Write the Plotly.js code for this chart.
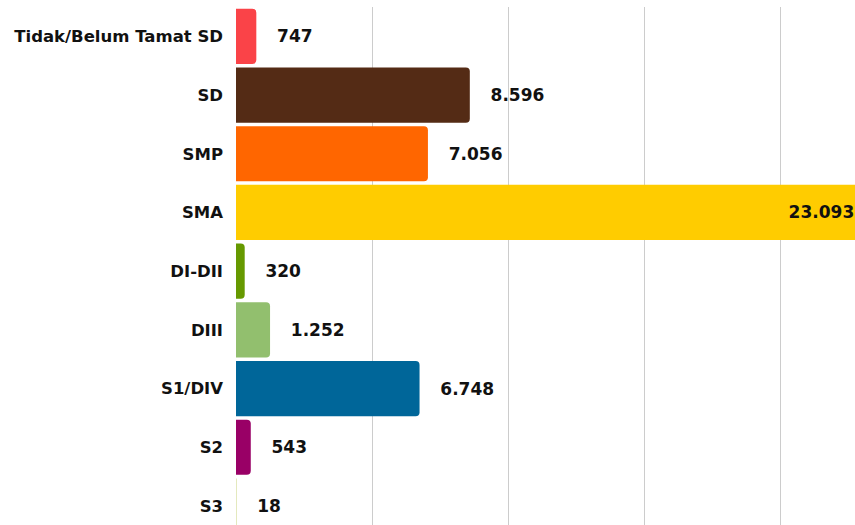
<!DOCTYPE html>
<html>
<head>
<meta charset="utf-8">
<script src="https://cdn.plot.ly/plotly-3.0.1.min.js"></script>
<style>html,body{margin:0;padding:0;background:#fff;}#chart{width:855px;height:525px;}</style>
</head>
<body>
<div id="chart"></div>
<script>
const categories = ["Tidak/Belum Tamat SD", "SD", "SMP", "SMA", "DI-DII", "DIII", "S1/DIV", "S2", "S3"];
const values = [747, 8596, 7056, 23093, 320, 1252, 6748, 543, 18];
const valueLabels = ["747", "8.596", "7.056", "23.093", "320", "1.252", "6.748", "543", "18"];
const barColors = ["#FA4348", "#542B15", "#FF6600", "#FFCC00", "#669900", "#92BF6E", "#006699", "#990066", "#C8D27A"];

const textPositions = values.map(v => v > 20000 ? "inside" : "outside");
const texts = valueLabels.map((t, i) => textPositions[i] === "outside" ? "\u00a0\u00a0\u00a0" + t : t + "\u00a0");

const trace = {
  type: "bar",
  orientation: "h",
  y: categories,
  x: values,
  marker: { color: barColors, cornerradius: 4, line: { width: 0 } },
  text: texts,
  textposition: textPositions,
  insidetextanchor: "end",
  textangle: 0,
  constraintext: "none",
  cliponaxis: true,
  textfont: { family: "DejaVu Sans, sans-serif", size: 17, color: "#111", weight: 700 },
  hoverinfo: "none"
};

const layout = {
  width: 855,
  height: 525,
  margin: { l: 236, r: 0, t: 7, b: 0, pad: 0 },
  paper_bgcolor: "#ffffff",
  plot_bgcolor: "#ffffff",
  bargap: 0.06,
  showlegend: false,
  xaxis: {
    range: [0, 22757],
    dtick: 5000,
    showgrid: true,
    gridcolor: "#cccccc",
    gridwidth: 1,
    zeroline: false,
    showticklabels: false,
    showline: false,
    fixedrange: true
  },
  yaxis: {
    range: [8.324, -0.5],
    showgrid: false,
    zeroline: false,
    showline: false,
    ticks: "",
    ticklabelstandoff: 12,
    tickfont: { family: "DejaVu Sans, sans-serif", size: 16.5, color: "#111", weight: 700 },
    fixedrange: true
  }
};

Plotly.newPlot("chart", [trace], layout, { displayModeBar: false, staticPlot: true });
</script>
</body>
</html>
